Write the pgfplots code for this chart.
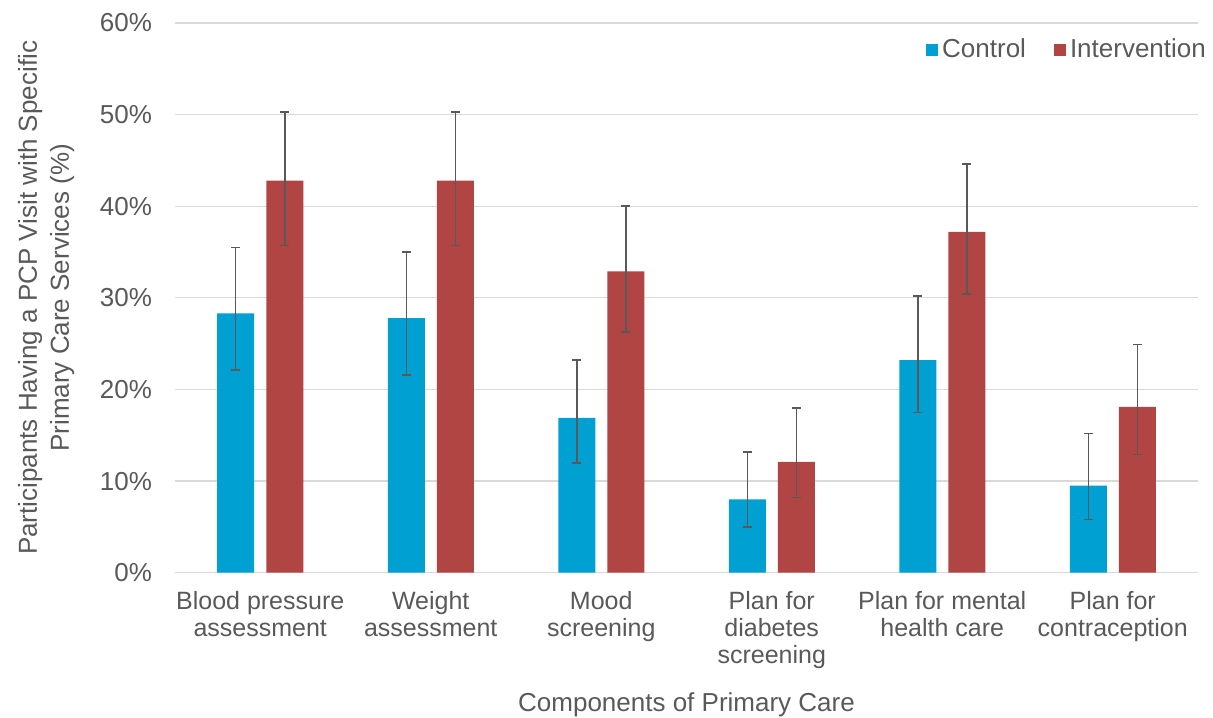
\documentclass[border=0pt]{standalone}
\usepackage{pgfplots}
\pgfplotsset{compat=1.18}
\usepackage{pgfplotstable}
\usepackage{fontspec}
\setmainfont{Liberation Sans}

\definecolor{ctrl}{RGB}{0,160,210}
\definecolor{intv}{RGB}{176,69,67}
\definecolor{txt}{RGB}{89,89,89}
\definecolor{grd}{RGB}{217,217,217}

% value, error plus, error minus (percent)
\pgfplotstableread{
x c    cp  cm  i    ip  im
0 28.3 7.2 6.2 42.8 7.5 7.1
1 27.8 7.2 6.2 42.8 7.5 7.1
2 16.9 6.3 4.9 32.9 7.1 6.6
3 8.0  5.2 3.0 12.1 5.9 3.9
4 23.2 7.0 5.7 37.2 7.4 6.8
5 9.5  5.7 3.7 18.1 6.8 5.2
}\caredata

\begin{document}
\begin{tikzpicture}
\begin{axis}[
  scale only axis,
  width=511.5pt, height=274.85pt,
  xmin=-0.5, xmax=5.5, ymin=0, ymax=60,
  ybar=6pt, bar width=18.5pt,
  axis line style={draw=none},
  major tick length=0pt,
  ymajorgrids, grid style={grd, line width=0.6pt},
  xtick={0,...,5},
  xticklabels={{Blood pressure\\assessment},{Weight\\assessment},{Mood\\screening},{Plan for\\diabetes\\screening},{Plan for mental\\health care},{Plan for\\contraception}},
  xticklabel style={align=center, text=txt, font=\fontsize{12.5}{13.5}\selectfont, yshift=-6pt},
  ytick={0,10,...,60},
  yticklabel={\pgfmathprintnumber{\tick}\%},
  yticklabel style={text=txt, font=\fontsize{13}{15}\selectfont, xshift=-8pt},
  /pgf/number format/assume math mode=true,
  xlabel={Components of Primary Care},
  xlabel style={at={(axis description cs:0.5,0)}, anchor=center, yshift=-66pt, text=txt, font=\fontsize{13}{15}\selectfont},
  ylabel={Participants Having a PCP Visit with Specific\\Primary Care Services (\%)},
  ylabel style={at={(axis description cs:-0.126,0.5)}, anchor=center, align=center, text=txt, font=\fontsize{13}{16}\selectfont},
  legend columns=2,
  legend style={at={(axis description cs:1.012,0.951)}, anchor=east, draw=none, fill=none,
    font=\fontsize{13}{15}\selectfont, text=txt, inner sep=0pt,
    /tikz/every even column/.append style={column sep=12pt}},
  legend image code/.code={\fill[#1] (0pt,-3pt) rectangle (6pt,3pt);},
  error bars/y dir=both, error bars/y explicit,
  error bars/error bar style={txt, line width=0.75pt},
  error bars/error mark options={txt, line width=0.75pt, mark size=2.25pt, rotate=90},
]
\addplot[fill=ctrl, draw=none] table[x=x, y=c, y error plus=cp, y error minus=cm] {\caredata};
\addlegendentry{Control}
\addplot[fill=intv, draw=none] table[x=x, y=i, y error plus=ip, y error minus=im] {\caredata};
\addlegendentry{Intervention}
\end{axis}
\pgfresetboundingbox
\path (-87.5pt,-72.15pt) rectangle (519pt,286.35pt);
\end{tikzpicture}
\end{document}
